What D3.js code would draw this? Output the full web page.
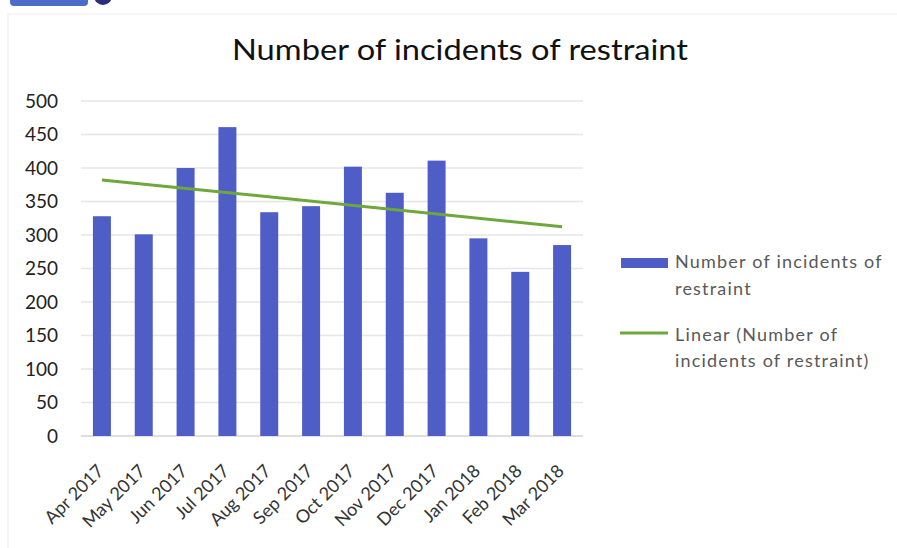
<html>
<head>
<meta charset="utf-8">
<script src="https://cdn.jsdelivr.net/npm/d3@7"></script>
<style>
body { margin:0; background:#fff; }
text { font-family: Lato, "Open Sans", sans-serif; }
</style>
</head>
<body>
<div id="chart"></div>
<script>

// values
var months = ["Apr 2017","May 2017","Jun 2017","Jul 2017","Aug 2017","Sep 2017",
              "Oct 2017","Nov 2017","Dec 2017","Jan 2018","Feb 2018","Mar 2018"]
var incidents = [328, 301, 400, 461, 334, 343, 402, 363, 411, 295, 245, 285]
var yTicks = [0,50,100,150,200,250,300,350,400,450,500]
var titleText = "Number of incidents of restraint"
var legendBar = ["Number of incidents of", "restraint"]
var legendLine = ["Linear (Number of", "incidents of restraint)"]

var W = 897, H = 548
var plotL = 81, plotR = 583, plotT = 101, plotB = 436
var barColor = "#4f5dc6", trendColor = "#6ea83c"

var svg = d3.select("#chart").append("svg").attr("width",W).attr("height",H)

// bits of the page around the chart (scan residue)
svg.append("rect").attr("x",10).attr("y",-8).attr("width",78).attr("height",14).attr("rx",4).attr("fill","#4b6cc9")
svg.append("circle").attr("cx",103).attr("cy",-4).attr("r",9).attr("fill","#2b2f7a")
svg.append("rect").attr("x",8).attr("y",14).attr("width",W).attr("height",H).attr("fill","none").attr("stroke","#ececec")

var x = d3.scaleBand().domain(months).range([plotL,plotR]).paddingInner(0.57).paddingOuter(0.285)
var y = d3.scaleLinear().domain([0,500]).range([plotB,plotT])

// gridlines
svg.append("g").selectAll("line").data(yTicks).enter().append("line")
	.attr("x1",plotL).attr("x2",plotR)
	.attr("y1",function(d){return y(d)}).attr("y2",function(d){return y(d)})
	.attr("stroke",function(d){return d==0 ? "#d4d4d4" : "#e6e6e6"}).attr("stroke-width",1.3)

// y labels
var yAxis = svg.append("g").attr("transform","translate(58,0)")
	.call(d3.axisLeft(y).tickValues(yTicks).tickSize(0).tickPadding(0))
yAxis.select(".domain").remove()
yAxis.selectAll("text").attr("font-size",19).attr("fill","#222").attr("font-family","Lato, sans-serif")

// bars
svg.append("g").selectAll("rect").data(incidents).enter().append("rect")
	.attr("x",function(d,i){return x(months[i])})
	.attr("y",function(d){return y(d)})
	.attr("width",x.bandwidth())
	.attr("height",function(d){return plotB - y(d)})
	.attr("fill",barColor)

// linear trend (least squares over the bars)
var n = incidents.length
var mx = d3.mean(incidents,function(d,i){return i+1})
var my = d3.mean(incidents)
var sxy = d3.sum(incidents,function(d,i){return (i+1-mx)*(d-my)})
var sxx = d3.sum(incidents,function(d,i){return (i+1-mx)*(i+1-mx)})
var slope = sxy/sxx
var trend = months.map(function(m,i){return {m:m, v: my + slope*(i+1-mx)}})
svg.append("path").datum([trend[0],trend[n-1]])
	.attr("d", d3.line().x(function(d){return x(d.m)+x.bandwidth()/2}).y(function(d){return y(d.v)}))
	.attr("stroke",trendColor).attr("stroke-width",3).attr("fill","none")

// x labels, rotated
svg.append("g").selectAll("text").data(months).enter().append("text")
	.attr("transform",function(d){return "translate(" + (x(d)+x.bandwidth()/2+3) + ",472) rotate(-45)"})
	.attr("text-anchor","end").attr("font-size",18).attr("fill","#333")
	.text(function(d){return d})

// title
svg.append("text").attr("x",460).attr("y",60).attr("text-anchor","middle")
	.attr("font-size",29).attr("fill","#111")
	.attr("textLength",456).attr("lengthAdjust","spacingAndGlyphs")
	.text(titleText)

// legend
var lg = svg.append("g").attr("fill","#595959").attr("font-size",18).attr("letter-spacing",1.2)
lg.append("rect").attr("x",621).attr("y",258).attr("width",47).attr("height",10).attr("fill",barColor)
lg.selectAll("text.b").data(legendBar).enter().append("text").attr("class","b")
	.attr("x",675).attr("y",function(d,i){return 268 + i*27}).text(function(d){return d})
lg.append("line").attr("x1",620).attr("x2",668).attr("y1",333).attr("y2",333)
	.attr("stroke",trendColor).attr("stroke-width",3)
lg.selectAll("text.l").data(legendLine).enter().append("text").attr("class","l")
	.attr("x",675).attr("y",function(d,i){return 341 + i*26}).text(function(d){return d})

</script>
</body>
</html>
